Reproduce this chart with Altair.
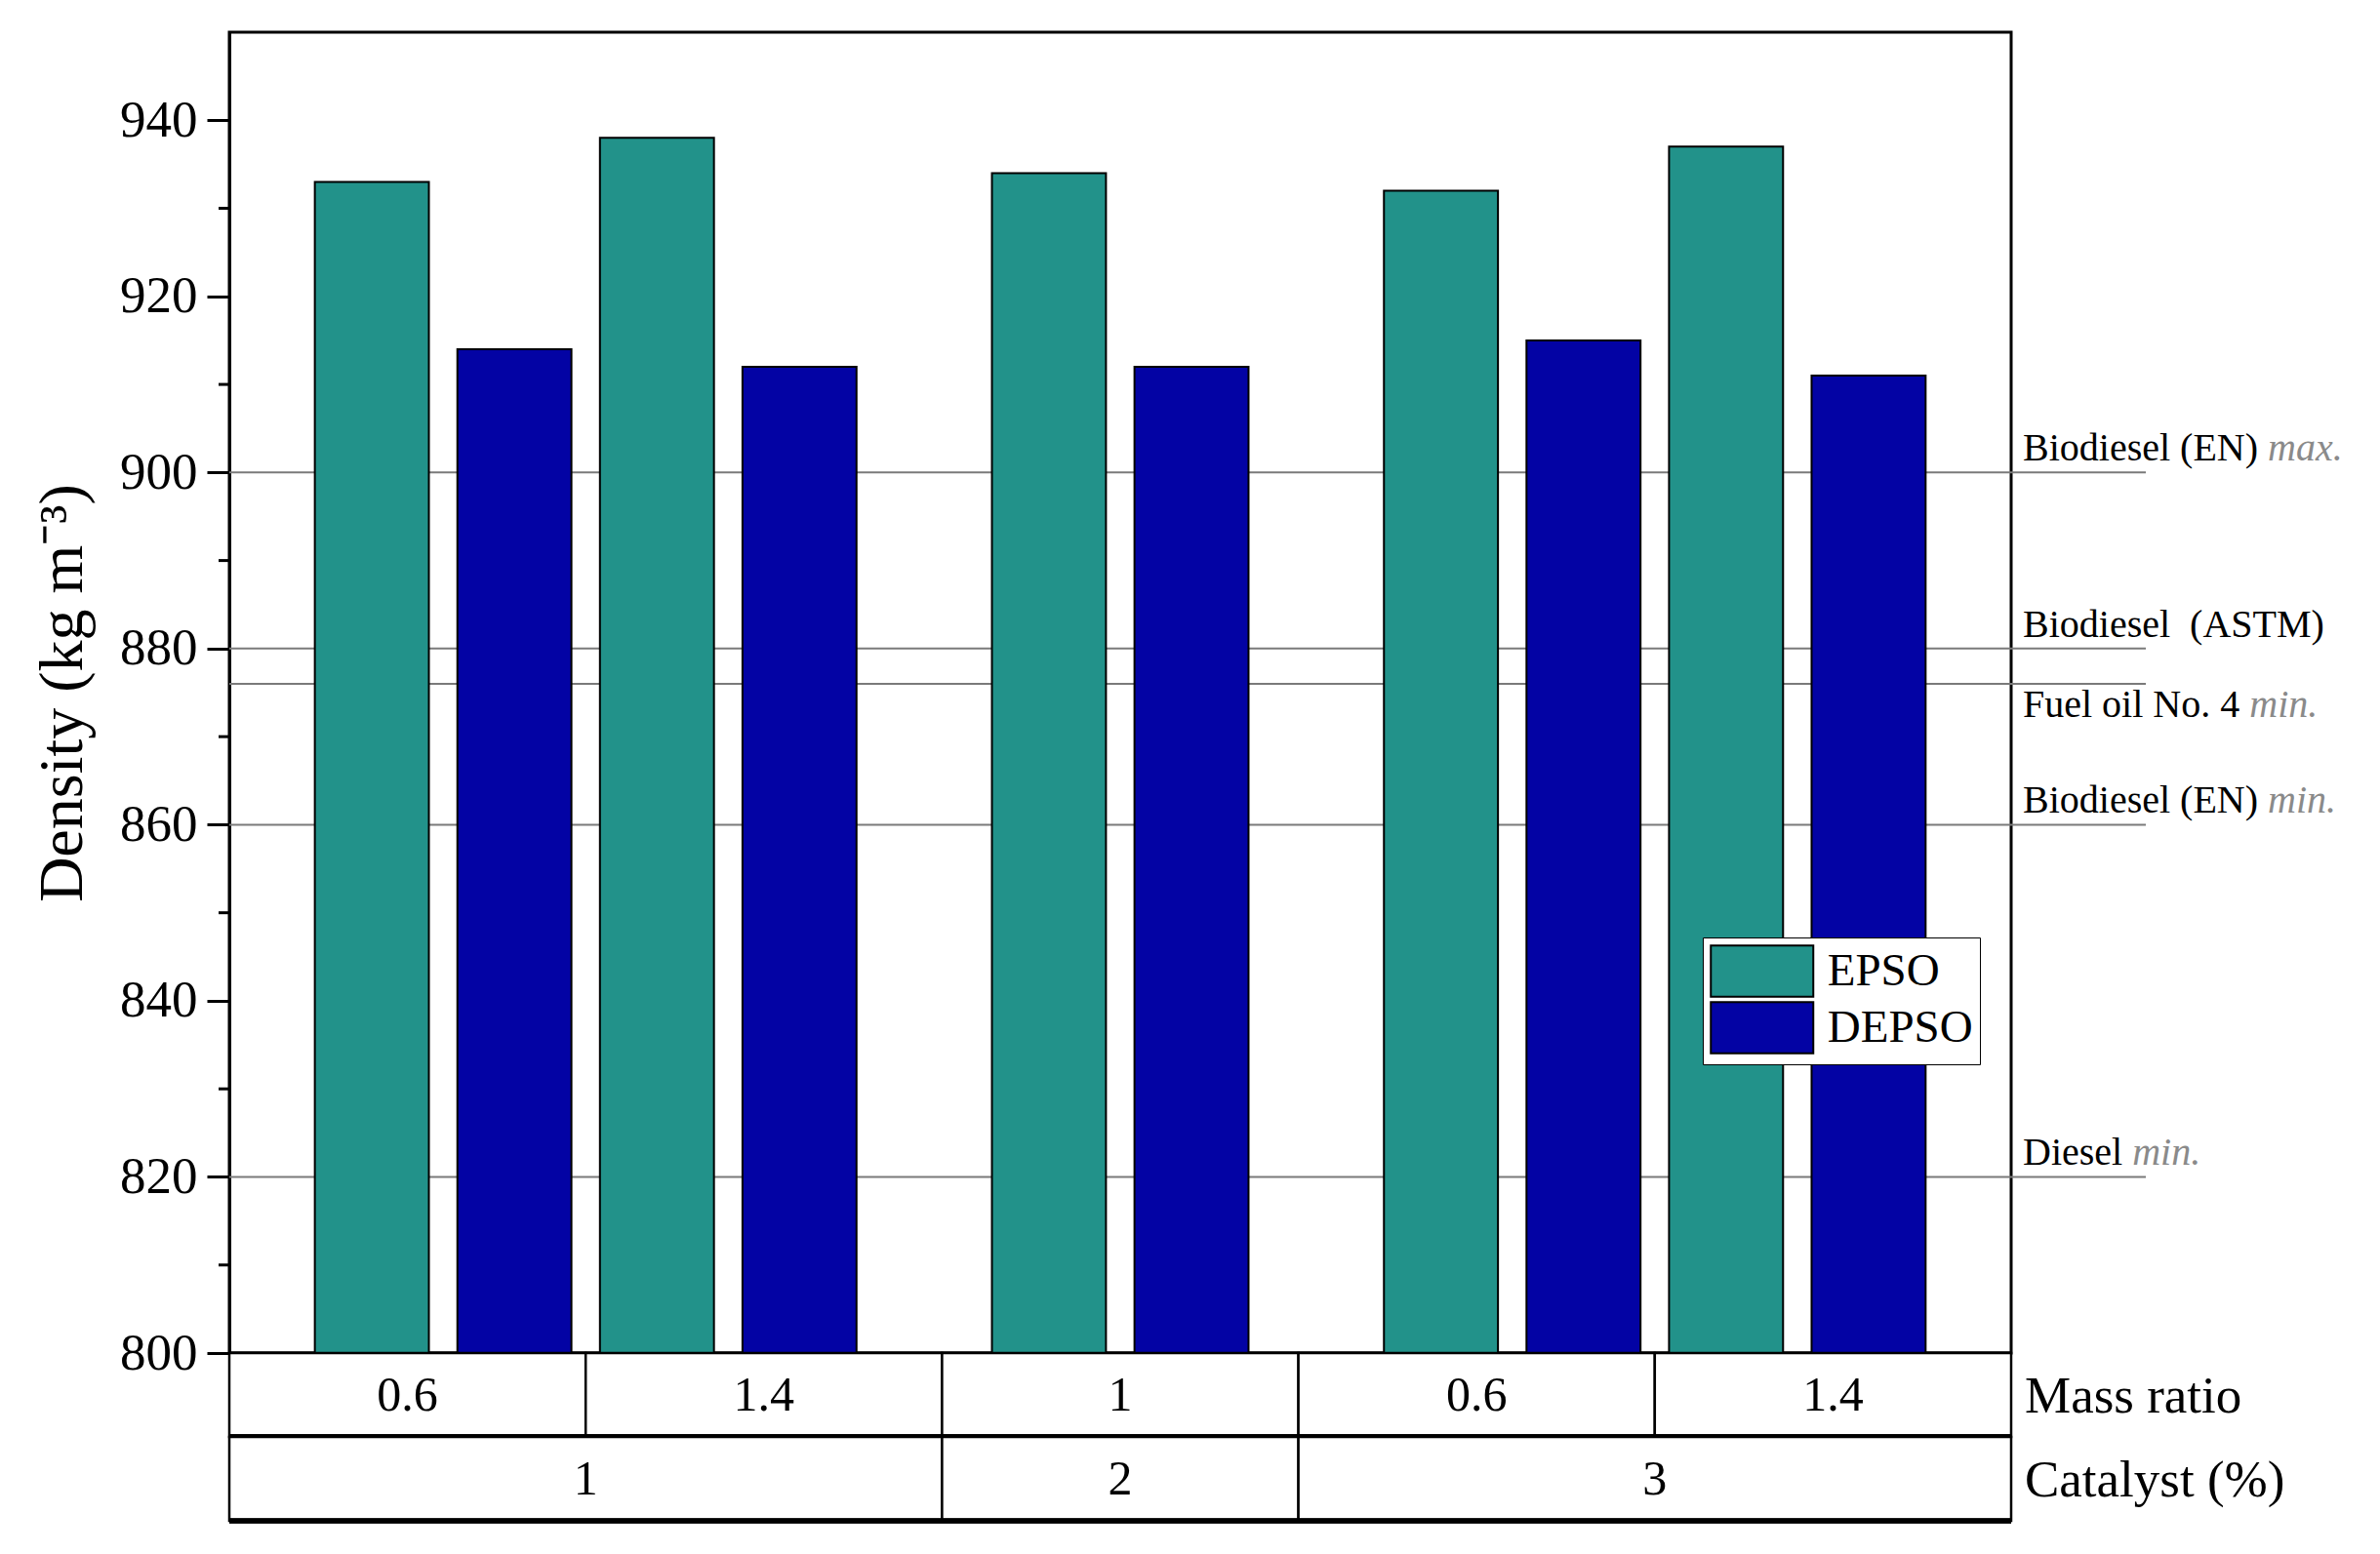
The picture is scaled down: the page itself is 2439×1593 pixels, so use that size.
import altair as alt
import pandas as pd

# ---------------- data ----------------
catalyst = ["1", "1", "2", "3", "3"]
mass_ratio = ["0.6", "1.4", "1", "0.6", "1.4"]
epso = [933, 938, 934, 932, 937]
depso = [914, 912, 912, 915, 911]
series = ["EPSO", "DEPSO"]
colors = ["#22928A", "#0303A4"]

ref_values = [900, 880, 876, 860, 820]
ref_names = ["Biodiesel (EN)", "Biodiesel\u00a0 (ASTM)", "Fuel oil No. 4", "Biodiesel (EN)", "Diesel"]
ref_suffix = ["max.", "", "min.", "min.", "min."]
ref_below = [False, False, True, False, False]

y_major = [800, 820, 840, 860, 880, 900, 920, 940]
y_minor = [810, 830, 850, 870, 890, 910, 930]
row_titles = ["Mass ratio", "Catalyst (%)"]
y_title = "Density (kg m⁻³)"

# ---------------- layout constants ----------------
FONT = "Liberation Serif"
W, H = 1826, 1354
ROW_H = 86
LBL_SIZE = 40
BAR_STEP = 0.4      # spacing of bars within a catalyst group (in mass-ratio cell units)
BAR_HALF = 0.16     # half bar width (cell units)

# Times-like advance widths (per 1000 em) for label placement
TW = {" ": 250, "\u00a0": 250, "(": 333, ")": 333, ".": 250, "4": 500, "A": 722, "B": 667,
      "D": 722, "E": 611, "F": 556, "M": 889, "N": 722, "S": 556, "T": 611, "a": 444,
      "d": 500, "e": 444, "i": 278, "l": 278, "n": 500, "o": 500, "s": 389, "u": 500}


def text_w(s, size):
    return sum(TW.get(c, 500) for c in s) * size / 1000.0


# catalyst groups spanning consecutive mass-ratio cells
groups = []
for i, c in enumerate(catalyst):
    if groups and groups[-1]["label"] == c:
        groups[-1]["x1"] = i + 1
    else:
        groups.append({"label": c, "x0": i, "x1": i + 1})

# bars evenly spaced inside each catalyst group, centred on the group's span
bar_rows = []
for g in groups:
    n = 2 * (g["x1"] - g["x0"])
    centre = (g["x0"] + g["x1"]) / 2
    k = 0
    for i in range(g["x0"], g["x1"]):
        for s, v in zip(series, (epso[i], depso[i])):
            pos = centre + (k - (n - 1) / 2) * BAR_STEP
            bar_rows.append({"series": s, "density": v, "mass_ratio": mass_ratio[i],
                             "catalyst": catalyst[i],
                             "xa": pos - BAR_HALF, "xb": pos + BAR_HALF})
            k += 1
bar_df = pd.DataFrame(bar_rows)

ref_df = pd.DataFrame({
    "value": ref_values,
    "name": [n + (" " if s else "") for n, s in zip(ref_names, ref_suffix)],
    "suffix": ref_suffix,
    "below": ref_below,
})
ref_df["sx"] = [W + 12 + text_w(n, LBL_SIZE) for n in ref_df["name"]]

yscale = alt.Scale(domain=[800, 950], nice=False, zero=False)
xq = alt.Scale(domain=[0, len(catalyst)], nice=False, zero=False)

# legend symbol: 2:1 rectangle drawn inside the [-1,1] unit box, scaled x2
SYM = 52.5
legend = alt.Legend(
    title=None, orient="none", legendX=1510, legendY=928,
    symbolType="M-2,-1L2,-1L2,1L-2,1Z", symbolSize=SYM * SYM,
    symbolOffset=SYM / 2, symbolStrokeColor="black", symbolStrokeWidth=2,
    symbolOpacity=1, labelFont=FONT, labelFontSize=47, labelColor="black",
    labelOffset=SYM + 14 - 27, rowPadding=-4, padding=7,
    strokeColor="black", fillColor="white")

bars = alt.Chart(bar_df).mark_bar(stroke="black", strokeWidth=2, clip=True).encode(
    x=alt.X("xa:Q", scale=xq,
            axis=alt.Axis(labels=False, ticks=False, title=None, domainWidth=4,
                          domainColor="black", grid=False)),
    x2="xb:Q",
    y=alt.Y("density:Q", scale=yscale,
            axis=alt.Axis(values=y_major, title=y_title, grid=False,
                          tickSize=23, tickWidth=3, tickColor="black",
                          domainWidth=3, domainColor="black",
                          labelFont=FONT, labelFontSize=53, labelColor="black",
                          labelPadding=10, titleFont=FONT, titleFontSize=64,
                          titleFontWeight="normal", titleColor="black",
                          titlePadding=26)),
    y2=alt.datum(800),
    color=alt.Color("series:N", sort=series,
                    scale=alt.Scale(domain=series, range=colors), legend=legend),
)

ref_rules = alt.Chart(ref_df).mark_rule(color="#7a7a7a", strokeWidth=2).encode(
    y=alt.Y("value:Q", scale=yscale),
    x=alt.value(0),
    x2=alt.value(W + 138),
)

minor_ticks = alt.Chart(pd.DataFrame({"v": y_minor})).mark_rule(
    color="black", strokeWidth=3).encode(
    y=alt.Y("v:Q", scale=yscale),
    x=alt.value(-11),
    x2=alt.value(0),
)

lbl_above = alt.Chart(ref_df).transform_filter("!datum.below").mark_text(
    align="left", baseline="alphabetic", dy=-12, font=FONT, fontSize=LBL_SIZE, color="black"
).encode(y=alt.Y("value:Q", scale=yscale), x=alt.value(W + 12), text="name:N")

lbl_below = alt.Chart(ref_df).transform_filter("datum.below").mark_text(
    align="left", baseline="alphabetic", dy=34, font=FONT, fontSize=LBL_SIZE, color="black"
).encode(y=alt.Y("value:Q", scale=yscale), x=alt.value(W + 12), text="name:N")

suf_above = alt.Chart(ref_df).transform_filter("!datum.below && datum.suffix != ''").mark_text(
    align="left", baseline="alphabetic", dy=-12, font=FONT, fontSize=LBL_SIZE,
    fontStyle="italic", color="#8a8a8a"
).encode(y=alt.Y("value:Q", scale=yscale), x=alt.X("sx:Q", scale=None), text="suffix:N")

suf_below = alt.Chart(ref_df).transform_filter("datum.below && datum.suffix != ''").mark_text(
    align="left", baseline="alphabetic", dy=34, font=FONT, fontSize=LBL_SIZE,
    fontStyle="italic", color="#8a8a8a"
).encode(y=alt.Y("value:Q", scale=yscale), x=alt.X("sx:Q", scale=None), text="suffix:N")

main = alt.layer(ref_rules, bars, minor_ticks, lbl_above, lbl_below, suf_above, suf_below).properties(
    width=W, height=H, view=alt.ViewBackground(stroke="black", strokeWidth=3))

# ---------------- table rows ----------------
row1_df = pd.DataFrame({"x0": list(range(len(mass_ratio))),
                        "x1": list(range(1, len(mass_ratio) + 1)), "label": mass_ratio})
row1_df["xc"] = row1_df["x0"] + 0.5

row2_df = pd.DataFrame(groups)
row2_df["xc"] = (row2_df["x0"] + row2_df["x1"]) / 2


def table_row(df, title):
    cells = alt.Chart(df).mark_rect(fill="white", stroke="black", strokeWidth=2.5).encode(
        x=alt.X("x0:Q", scale=xq, axis=None), x2="x1:Q",
        y=alt.value(0), y2=alt.value(ROW_H))
    labels = alt.Chart(df).mark_text(font=FONT, fontSize=50, color="black",
                                     baseline="middle", align="center").encode(
        x=alt.X("xc:Q", scale=xq, axis=None), y=alt.value(ROW_H / 2 + 1), text="label:N")
    bottom = alt.Chart(df).mark_rule(color="black", strokeWidth=5).encode(
        x=alt.value(0), x2=alt.value(W), y=alt.value(ROW_H))
    ttl = alt.Chart(pd.DataFrame({"t": [title]})).mark_text(
        font=FONT, fontSize=53, color="black", align="left", baseline="middle").encode(
        x=alt.value(W + 14), y=alt.value(ROW_H / 2 + 2), text="t:N")
    return alt.layer(cells, labels, bottom, ttl).properties(
        width=W, height=ROW_H, view=alt.ViewBackground(stroke=None))


row1 = table_row(row1_df, row_titles[0])
row2 = table_row(row2_df, row_titles[1])

chart = alt.vconcat(main, row1, row2, spacing=0, bounds="flush").resolve_scale(
    x="independent").resolve_legend(color="independent").properties(
    padding={"left": 23, "top": 23, "right": 5, "bottom": 5}
).configure(font=FONT, background="white")

chart.save("out.html", embed_options={"renderer": "svg", "actions": False})
